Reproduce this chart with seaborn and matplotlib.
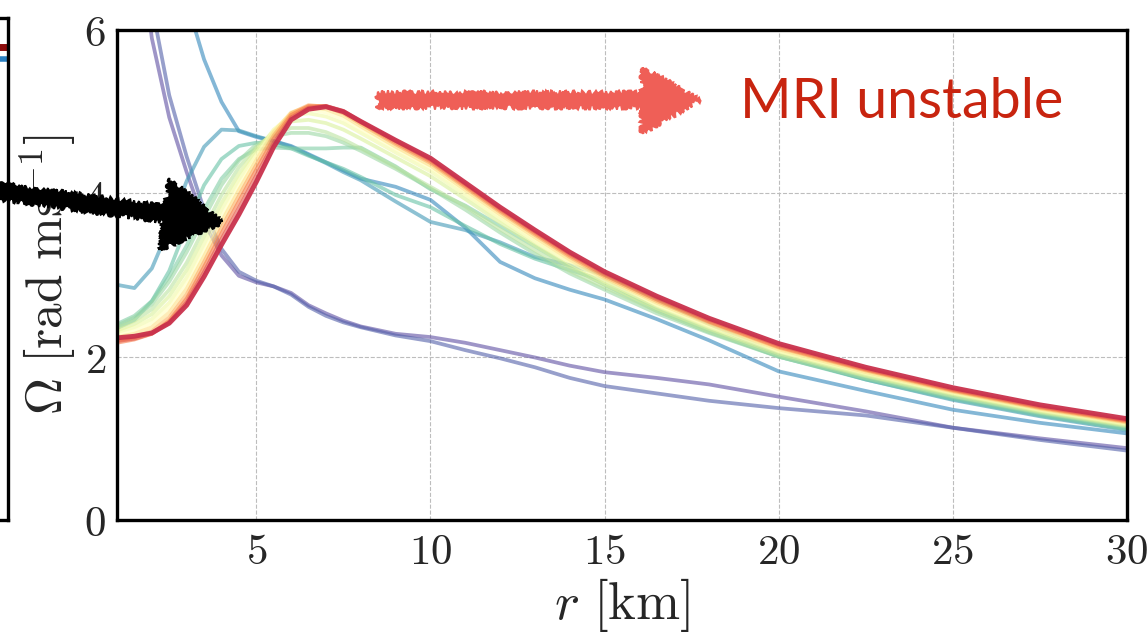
import matplotlib
matplotlib.use("Agg")
import matplotlib.pyplot as plt
from matplotlib.patches import FancyArrow
import pandas as pd
import seaborn as sns

# radius grid [km], shared by every snapshot
r_km = [1, 1.5, 2, 2.5, 3, 3.5, 4, 4.5, 5, 5.5, 6, 6.5, 7, 7.5, 8,
        9, 10, 11, 12, 13, 14, 15, 16.5, 18, 20, 22.5, 25, 27.5, 30]

# Omega(r) [rad/ms], earliest snapshot first
omega_p1 = [9.5, 7.6, 5.9, 4.93, 4.26, 3.65, 3.24, 2.99, 2.91, 2.86, 2.78, 2.63, 2.53, 2.44, 2.37,
            2.28, 2.24, 2.17, 2.08, 1.99, 1.89, 1.81, 1.74, 1.66, 1.51, 1.33, 1.13, 1.00, 0.88]
omega_p2 = [10.0, 8.0, 6.3, 5.2, 4.45, 3.8, 3.32, 3.04, 2.93, 2.86, 2.76, 2.61, 2.50, 2.42, 2.36,
            2.26, 2.19, 2.08, 1.98, 1.87, 1.74, 1.64, 1.55, 1.46, 1.37, 1.28, 1.13, 0.98, 0.85]
omega_b1 = [14.0, 12.0, 10.0, 7.8, 6.35, 5.64, 5.12, 4.76, 4.69, 4.64, 4.58, 4.48, 4.38, 4.28, 4.18,
            4.08, 3.92, 3.58, 3.16, 2.96, 2.82, 2.70, 2.46, 2.20, 1.82, 1.58, 1.35, 1.19, 1.06]
omega_b2 = [2.88, 2.84, 3.08, 3.58, 4.15, 4.57, 4.78, 4.77, 4.70, 4.64, 4.57, 4.47, 4.37, 4.26, 4.16,
            3.90, 3.65, 3.55, 3.40, 3.22, 3.12, 3.00, 2.70, 2.40, 2.02, 1.72, 1.47, 1.27, 1.10]
omega_t1 = [2.35, 2.45, 2.68, 3.05, 3.60, 4.10, 4.42, 4.58, 4.62, 4.60, 4.55, 4.46, 4.38, 4.30, 4.20,
            3.98, 3.83, 3.60, 3.38, 3.20, 3.06, 2.93, 2.58, 2.32, 2.00, 1.72, 1.48, 1.28, 1.11]
omega_t2 = [2.40, 2.50, 2.68, 2.98, 3.36, 3.80, 4.18, 4.42, 4.54, 4.56, 4.55, 4.55, 4.55, 4.56, 4.56,
            4.33, 4.05, 3.85, 3.60, 3.35, 3.10, 2.88, 2.56, 2.30, 2.00, 1.73, 1.50, 1.30, 1.12]
omega_t3 = [2.38, 2.48, 2.64, 2.92, 3.28, 3.70, 4.10, 4.40, 4.60, 4.70, 4.74, 4.74, 4.70, 4.62, 4.52,
            4.30, 4.06, 3.80, 3.52, 3.26, 3.02, 2.82, 2.53, 2.29, 2.00, 1.74, 1.51, 1.31, 1.14]
omega_g1 = [2.35, 2.44, 2.58, 2.82, 3.15, 3.57, 3.98, 4.32, 4.57, 4.73, 4.80, 4.80, 4.75, 4.66, 4.55,
            4.32, 4.08, 3.84, 3.56, 3.30, 3.05, 2.85, 2.56, 2.31, 2.02, 1.76, 1.52, 1.32, 1.15]
omega_g2 = [2.32, 2.40, 2.52, 2.74, 3.06, 3.47, 3.88, 4.24, 4.54, 4.76, 4.88, 4.90, 4.86, 4.78, 4.67,
            4.44, 4.21, 3.93, 3.64, 3.36, 3.10, 2.89, 2.59, 2.34, 2.04, 1.77, 1.54, 1.33, 1.16]
omega_y1 = [2.30, 2.36, 2.46, 2.66, 2.97, 3.38, 3.80, 4.17, 4.50, 4.78, 4.95, 4.98, 4.94, 4.86, 4.74,
            4.50, 4.27, 3.98, 3.68, 3.40, 3.14, 2.92, 2.62, 2.36, 2.06, 1.79, 1.55, 1.34, 1.17]
omega_y2 = [2.27, 2.32, 2.41, 2.60, 2.90, 3.30, 3.72, 4.10, 4.46, 4.77, 4.98, 5.03, 4.99, 4.91, 4.78,
            4.54, 4.31, 4.01, 3.71, 3.43, 3.17, 2.94, 2.64, 2.38, 2.07, 1.80, 1.56, 1.35, 1.18]
omega_y3 = [2.24, 2.28, 2.36, 2.54, 2.83, 3.23, 3.65, 4.04, 4.41, 4.75, 4.99, 5.06, 5.03, 4.95, 4.82,
            4.57, 4.34, 4.04, 3.74, 3.46, 3.19, 2.96, 2.66, 2.40, 2.09, 1.81, 1.57, 1.36, 1.19]
omega_o1 = [2.20, 2.24, 2.31, 2.48, 2.76, 3.16, 3.58, 3.97, 4.35, 4.71, 4.98, 5.08, 5.06, 4.98, 4.85,
            4.60, 4.37, 4.07, 3.77, 3.49, 3.22, 2.98, 2.68, 2.42, 2.11, 1.83, 1.58, 1.37, 1.20]
omega_o2 = [2.17, 2.21, 2.28, 2.44, 2.71, 3.10, 3.51, 3.90, 4.29, 4.67, 4.96, 5.07, 5.07, 5.00, 4.87,
            4.62, 4.39, 4.09, 3.79, 3.51, 3.24, 3.00, 2.70, 2.43, 2.12, 1.84, 1.59, 1.38, 1.21]
omega_o3 = [2.19, 2.22, 2.28, 2.42, 2.67, 3.04, 3.44, 3.82, 4.22, 4.62, 4.93, 5.05, 5.07, 5.01, 4.88,
            4.64, 4.41, 4.11, 3.81, 3.53, 3.26, 3.02, 2.72, 2.45, 2.14, 1.85, 1.60, 1.39, 1.22]
omega_final = [2.23, 2.25, 2.29, 2.41, 2.63, 2.98, 3.37, 3.74, 4.14, 4.57, 4.90, 5.03, 5.06, 5.00, 4.88,
               4.65, 4.43, 4.13, 3.83, 3.55, 3.28, 3.04, 2.74, 2.47, 2.16, 1.87, 1.62, 1.41, 1.24]

profiles = [omega_p1, omega_p2, omega_b1, omega_b2, omega_t1, omega_t2, omega_t3,
            omega_g1, omega_g2, omega_y1, omega_y2, omega_y3,
            omega_o1, omega_o2, omega_o3, omega_final]
# where each snapshot sits on the Spectral_r colour map
colour_pos = [0.0, 0.03, 0.1, 0.13, 0.2, 0.24, 0.28, 0.33, 0.38, 0.44, 0.5,
              0.6, 0.7, 0.78, 0.85, 0.92]

xticks = [5, 10, 15, 20, 25, 30]
yticks = [0, 2, 4, 6]

# long form table for seaborn
rows = []
for i, prof in enumerate(profiles):
    for r, w in zip(r_km, prof):
        rows.append({"snap": i, "r": r, "omega": w})
df = pd.DataFrame(rows)
last = len(profiles) - 1

cmap = plt.get_cmap("Spectral_r")
pal = {i: cmap(p) for i, p in enumerate(colour_pos)}

sns.set_theme(style="white")
plt.rcParams["mathtext.fontset"] = "cm"
plt.rcParams["font.family"] = ["DejaVu Serif"]

fig = plt.figure(figsize=(11.48, 6.32), dpi=100)

# neighbouring panel, only its right edge shows
ax0 = fig.add_axes([-0.3, 0.1772, 0.3 + 8 / 1148, 0.7943])
ax0.set_xlim(0, 1)
ax0.set_ylim(0, 1)
ax0.plot([0.5, 1.0], [0.942, 0.942], color="#8b0a0a", lw=5, solid_capstyle="butt")
ax0.plot([0.5, 1.0], [0.918, 0.918], color="#2a7fc0", lw=4, solid_capstyle="butt")
ax0.set_xticks([])
ax0.set_yticks([])
for s in ax0.spines.values():
    s.set_linewidth(2.4)
    s.set_color("black")

ax = fig.add_axes([117 / 1148, 112 / 632, 1010 / 1148, 490 / 632])
sns.lineplot(data=df[df.snap < last], x="r", y="omega", hue="snap", palette=pal,
             legend=False, lw=2.7, alpha=0.6, estimator=None, sort=False, ax=ax)
sns.lineplot(data=df[df.snap == last], x="r", y="omega", color=pal[last],
             lw=3.5, alpha=0.95, estimator=None, sort=False, ax=ax)

ax.set_xlim(1, 30)
ax.set_ylim(0, 6)
ax.set_xticks(xticks)
ax.set_xticklabels([f"${t}$" for t in xticks], fontsize=31)
ax.set_yticks(yticks)
ax.set_yticklabels([f"${t}$" for t in yticks], fontsize=31)
ax.tick_params(direction="in", length=15, width=1.6, color="black",
               top=False, right=False, pad=8)
ax.grid(True, ls="--", lw=0.8, color="#bdbdbd")
for s in ax.spines.values():
    s.set_linewidth(2.4)
    s.set_color("black")
ax.set_xlabel(r"$r\ [\mathrm{km}]$", fontsize=38, labelpad=2)
ax.set_ylabel(r"$\Omega\ [\mathrm{rad\ ms}^{-1}]$", fontsize=37, labelpad=4)

# annotation layer in pixel coordinates
ov = fig.add_axes([0, 0, 1, 1])
ov.set_xlim(0, 1148)
ov.set_ylim(632, 0)
ov.axis("off")
ov.patch.set_alpha(0)

red_arrow = FancyArrow(378, 100, 322, 0, width=14, head_width=66, head_length=58,
                       length_includes_head=True, color="#ef5f57", lw=1.5)
red_arrow.set_sketch_params(scale=2.5, length=4, randomness=6)
ov.add_patch(red_arrow)

black_arrow = FancyArrow(-10, 190, 232, 32, width=15, head_width=72, head_length=58,
                         length_includes_head=True, color="black", lw=1.5)
black_arrow.set_sketch_params(scale=2.5, length=4, randomness=6)
ov.add_patch(black_arrow)

ov.text(740, 102, "MRI unstable", fontfamily="Lato", fontsize=40, color="#c8240f",
        va="center", ha="left")

fig.savefig("out.png", dpi=100)
